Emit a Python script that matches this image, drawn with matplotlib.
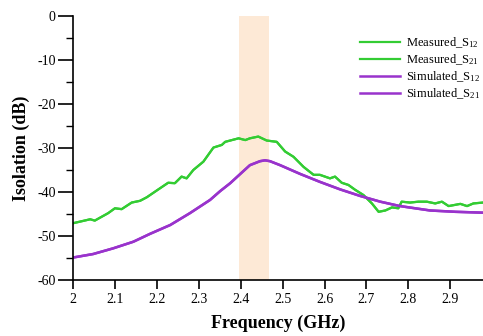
import matplotlib.pyplot as plt
from matplotlib.ticker import MultipleLocator

# 数据
freq_meas = [2.000, 2.041, 2.052, 2.084, 2.100, 2.116, 2.140, 2.160, 2.176, 2.196,
             2.227, 2.243, 2.259, 2.271, 2.287, 2.311, 2.335, 2.355, 2.363, 2.395,
             2.411, 2.422, 2.442, 2.462, 2.486, 2.506, 2.526, 2.550, 2.574, 2.589,
             2.613, 2.625, 2.641, 2.657, 2.673, 2.693, 2.713, 2.729, 2.745, 2.761,
             2.776, 2.784, 2.804, 2.824, 2.844, 2.864, 2.880, 2.896, 2.924, 2.940,
             2.955, 2.978]
s_meas = [-47.1, -46.2, -46.5, -44.8, -43.7, -43.9, -42.4, -42.0, -41.2, -39.9,
          -37.9, -38.0, -36.5, -36.9, -35.0, -33.1, -29.9, -29.3, -28.6, -27.8,
          -28.2, -27.8, -27.4, -28.3, -28.6, -30.8, -32.0, -34.3, -36.1, -36.1,
          -36.9, -36.5, -37.9, -38.4, -39.5, -40.7, -42.6, -44.5, -44.2, -43.5,
          -43.7, -42.2, -42.4, -42.2, -42.2, -42.6, -42.2, -43.2, -42.7, -43.2,
          -42.6, -42.4]

freq_sim = [2.000, 2.048, 2.096, 2.144, 2.184, 2.232, 2.279, 2.327, 2.351, 2.375,
            2.399, 2.422, 2.446, 2.458, 2.470, 2.494, 2.542, 2.589, 2.637, 2.685,
            2.733, 2.780, 2.852, 2.912, 2.978]
s_sim = [-54.9, -54.1, -52.8, -51.3, -49.5, -47.5, -44.8, -41.8, -39.8, -38.0,
         -35.9, -33.9, -33.0, -32.8, -33.0, -33.9, -35.9, -37.7, -39.4, -40.9,
         -42.2, -43.2, -44.2, -44.5, -44.7]

band = [2.395, 2.468]

plt.rcParams['font.family'] = ['Liberation Serif']
plt.rcParams['mathtext.fontset'] = 'custom'
plt.rcParams['mathtext.rm'] = 'Liberation Serif'
plt.rcParams['mathtext.it'] = 'Liberation Serif'
plt.rcParams['axes.unicode_minus'] = False

fig = plt.figure(figsize=(4.83, 3.36), dpi=100)
ax = fig.add_axes([73 / 483, 56 / 336, 410 / 483, 264 / 336])

# 阴影频段
ax.axvspan(band[0], band[1], color='#fde9d6', lw=0, zorder=0)

green = '#33cc33'
purple = '#9933cc'
ax.plot(freq_meas, s_meas, color=green, lw=1.6, label='Measured_S$_{12}$')
ax.plot(freq_meas, s_meas, color=green, lw=1.6, label='Measured_S$_{21}$')
ax.plot(freq_sim, s_sim, color=purple, lw=1.8, label='Simulated_S$_{12}$')
ax.plot(freq_sim, s_sim, color=purple, lw=1.8, label='Simulated_S$_{21}$')

ax.set_xlim(2, 2.978)
ax.set_ylim(-60, 0)
ax.yaxis.set_major_locator(MultipleLocator(10))
ax.yaxis.set_minor_locator(MultipleLocator(5))
ax.set_xticks([2, 2.1, 2.2, 2.3, 2.4, 2.5, 2.6, 2.7, 2.8, 2.9])
ax.set_xticklabels(['2', '2.1', '2.2', '2.3', '2.4', '2.5', '2.6', '2.7', '2.8', '2.9'])

ax.spines['top'].set_visible(False)
ax.spines['right'].set_visible(False)
ax.spines['left'].set_linewidth(1.2)
ax.spines['bottom'].set_linewidth(1.2)

ax.tick_params(axis='y', which='major', direction='out', length=10.5, width=1.2, labelsize=10, pad=2)
ax.tick_params(axis='y', which='minor', direction='out', length=5, width=1.0)
ax.tick_params(axis='x', which='major', direction='out', length=6.5, width=1.2, labelsize=10, pad=3)

ax.set_xlabel('Frequency (GHz)', fontsize=13, fontweight='bold', labelpad=6)
ax.set_ylabel('Isolation (dB)', fontsize=13, fontweight='bold', labelpad=5)

ax.legend(loc='upper left', bbox_to_anchor=(0.70, 0.925), frameon=False, fontsize=9,
          handlelength=3.2, labelspacing=0.18, handletextpad=0.5,
          borderpad=0, borderaxespad=0)

fig.savefig('out.png', dpi=100)
